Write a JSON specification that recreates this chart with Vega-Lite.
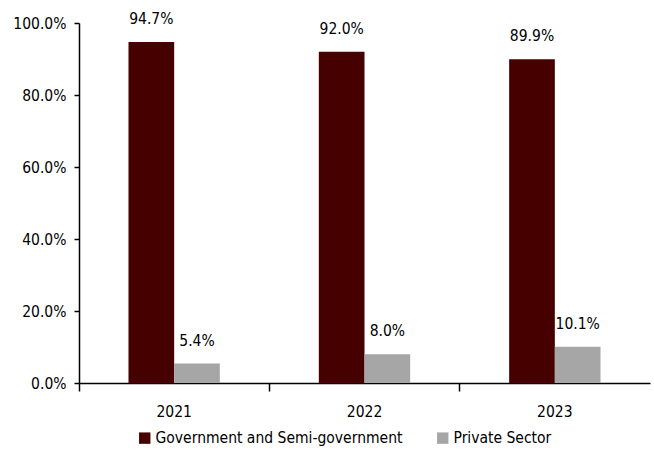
{
  "$schema": "https://vega.github.io/schema/vega-lite/v6.json",
  "width": 571,
  "height": 360,
  "autosize": {"type": "none"},
  "padding": {"left": 79, "top": 23, "right": 4, "bottom": 68},
  "background": "white",
  "config": {
    "view": {"stroke": null},
    "font": "DejaVu Sans Condensed",
    "axis": {"labelFont": "DejaVu Sans Condensed", "labelColor": "#000", "domainColor": "#000", "tickColor": "#000"}
  },
  "data": {"values": [
    {"year": "2021", "sector": "Government and Semi-government", "value": 0.947},
    {"year": "2021", "sector": "Private Sector", "value": 0.054},
    {"year": "2022", "sector": "Government and Semi-government", "value": 0.920},
    {"year": "2022", "sector": "Private Sector", "value": 0.080},
    {"year": "2023", "sector": "Government and Semi-government", "value": 0.899},
    {"year": "2023", "sector": "Private Sector", "value": 0.101}
  ]},
  "encoding": {
    "x": {"field": "year", "type": "nominal", "title": null,
      "scale": {"paddingInner": 0.52, "paddingOuter": 0.26},
      "axis": {"labelAngle": 0, "labelFontSize": 15.5, "labelPadding": 13, "tickSize": 8, "bandPosition": -0.54, "domainWidth": 1.5, "tickWidth": 1.5}},
    "xOffset": {"field": "sector", "type": "nominal", "sort": ["Government and Semi-government", "Private Sector"]},
    "y": {"field": "value", "type": "quantitative", "title": null,
      "scale": {"domain": [0, 1]},
      "axis": {"format": ".1%", "values": [0, 0.2, 0.4, 0.6, 0.8, 1.0], "grid": false, "labelFontSize": 15.5, "tickSize": 5, "labelPadding": 8, "domainWidth": 1.5, "tickWidth": 1.5}}
  },
  "layer": [
    {"mark": {"type": "bar"},
     "encoding": {"color": {"field": "sector", "type": "nominal",
       "scale": {"domain": ["Government and Semi-government", "Private Sector"], "range": ["#470000", "#a6a6a6"]},
       "legend": {"title": null, "orient": "none", "legendX": 58, "legendY": 407, "direction": "horizontal",
         "symbolType": "square", "symbolSize": 130, "symbolStrokeWidth": 0, "labelFontSize": 15.5, "labelFont": "DejaVu Sans Condensed", "labelColor": "#000", "columnPadding": 32, "labelOffset": 3, "labelLimit": 400}}}},
    {"mark": {"type": "text", "baseline": "bottom", "dy": -15, "fontSize": 15.5, "font": "DejaVu Sans Condensed", "color": "#000"},
     "encoding": {"text": {"field": "value", "type": "quantitative", "format": ".1%"}}}
  ]
}
